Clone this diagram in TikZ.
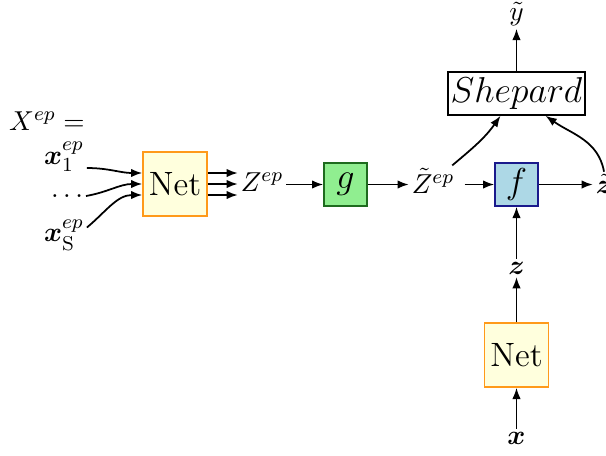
\documentclass[tikz,border=0pt]{standalone}
\usepackage{bm}
\usetikzlibrary{arrows.meta}
\definecolor{netyellow}{HTML}{FFFFDD}
\definecolor{netorange}{HTML}{FF9A1A}
\definecolor{ggreen}{HTML}{90EE90}
\definecolor{gdark}{HTML}{1E6B1E}
\definecolor{fblue}{HTML}{ADD8E6}
\definecolor{fnavy}{HTML}{1A1A8C}
\begin{document}
\begin{tikzpicture}[x=0.4pt,y=-0.4pt,
  >={Latex[length=4.5pt,width=3.4pt]},
  bigfont/.style={font=\fontsize{13.5}{16}\selectfont},
  netbox/.style={draw=netorange, fill=netyellow, line width=0.6pt, minimum width=25.6pt, minimum height=25.6pt, inner sep=0pt, bigfont},
  smallbox/.style={draw, line width=0.6pt, minimum width=17.2pt, minimum height=17.2pt, inner sep=0pt, bigfont},
  lbl/.style={inner sep=1pt, font=\fontsize{11}{13}\selectfont},
  conn/.style={->, line width=0.7pt}]
\useasboundingbox (0,0) rectangle (606,455);
% labels
\node[lbl] (X) at (47,121) {$X^{ep} =$};
\node[lbl] (x1) at (64,157) {$\bm{x}_1^{ep}$};
\node[lbl] (dots) at (67,196) {$\dots$};
\node[lbl] (xS) at (64,235) {$\bm{x}_{\mathrm{S}}^{ep}$};
\node[netbox] (net) at (175,184) {Net};
\node[lbl] (Z) at (262,182) {$Z^{ep}$};
\node[smallbox, fill=ggreen, draw=gdark] (g) at (345.5,184.5) {$g$};
\node[lbl] (tZ) at (433,181) {$\tilde{Z}^{ep}$};
\node[smallbox, fill=fblue, draw=fnavy] (f) at (516.5,184.5) {$f$};
\node[lbl] (tz) at (604,184) {$\tilde{\bm{z}}$};
\node[draw, line width=0.6pt, minimum width=51.2pt, minimum height=17.2pt, inner sep=1pt, bigfont] (shep) at (516.5,93.5) {$Shepard$};
\node[lbl] (ty) at (516.5,14) {$\tilde{y}$};
\node[lbl] (z) at (516.5,268) {$\bm{z}$};
\node[netbox] (net2) at (516.5,355) {Net};
\node[lbl] (x) at (516.5,438) {$\bm{x}$};
% connectors
\draw[conn] ([yshift=-4.4pt]x1.east) to[out=0,in=180] ([yshift=4.4pt]net.west);
\draw[conn] (dots.east) to[out=10,in=180] (net.west);
\draw[conn] ([yshift=3pt]xS.east) to[out=40,in=180] ([yshift=-4.4pt]net.west);
\draw[conn] ([yshift=4.4pt]net.east) -- ([yshift=4.4pt]Z.west |- net.east);
\draw[conn] (net.east) -- (Z.west |- net.east);
\draw[conn] ([yshift=-4.4pt]net.east) -- ([yshift=-4.4pt]Z.west |- net.east);
\draw[conn] (Z.east |- g.west) -- (g.west);
\draw[conn] (g.east) -- (tZ.west |- g.east);
\draw[conn] ([xshift=3pt]tZ.east |- f.west) -- (f.west);
\draw[conn] (f.east) -- (tz.west |- f.east);
\draw[conn] ([xshift=-2pt]tZ.north east) to[out=40,in=-125] ([xshift=-6.4pt]shep.south);
\draw[conn] (tz.north) to[out=100,in=-35] ([xshift=11.6pt]shep.south);
\draw[conn] (shep.north) -- (ty.south);
\draw[conn] (z.north) -- (f.south);
\draw[conn] (net2.north) -- (z.south);
\draw[conn] (x.north) -- (net2.south);
\end{tikzpicture}
\end{document}
